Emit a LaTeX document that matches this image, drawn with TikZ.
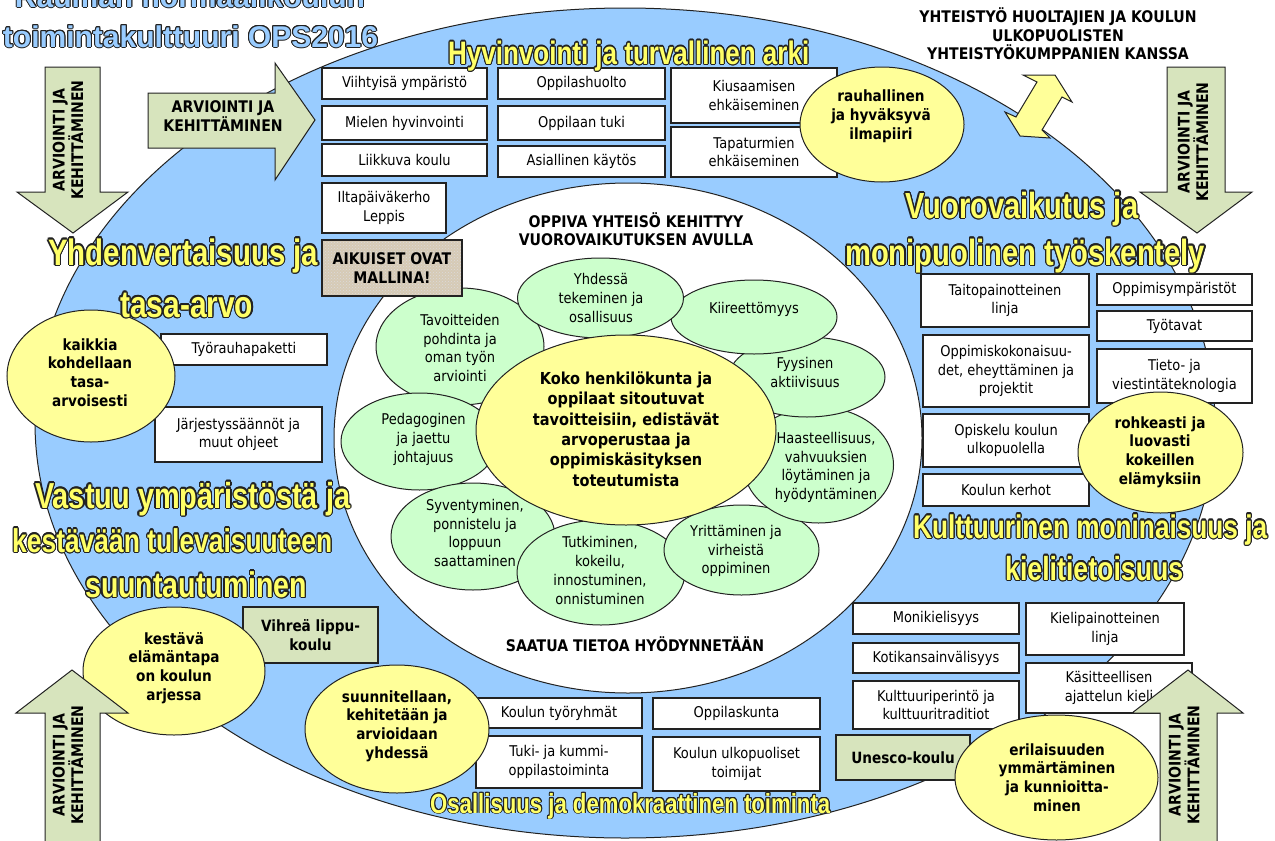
\documentclass[tikz,border=0pt]{standalone}
\usepackage{fontspec}
\setmainfont{DejaVu Sans}[FakeStretch=0.88]
\newfontfamily\hdfont{Liberation Sans}[FakeStretch=0.8]
\newfontfamily\ttlfont{Liberation Sans}
\usepackage{contour}
\contourlength{1pt}
\usetikzlibrary{shapes.geometric,patterns}
\definecolor{skyb}{HTML}{99CCFF}
\definecolor{pgreen}{HTML}{CCFFCC}
\definecolor{yel}{HTML}{FFFF99}
\definecolor{hdyel}{HTML}{FFFF66}
\definecolor{olv}{HTML}{D7E4BD}
\definecolor{tan}{HTML}{D6CAB5}
\definecolor{lc}{HTML}{222222}
\definecolor{ttlblue}{HTML}{99CCFF}
\newcommand\fnorm{\fontsize{14.8}{18.8}\selectfont}
\newcommand\fbold{\fontsize{15.5}{18.8}\selectfont\bfseries}
\newcommand\fcaps{\fontsize{16}{18.6}\selectfont\bfseries}
\newcommand\fcore{\fontsize{16.5}{20.3}\selectfont\bfseries}
\newcommand\hdtext[2]{\resizebox{#1pt}{!}{\textcolor{hdyel}{\contour{lc}{\hdfont\bfseries\fontsize{30}{30}\selectfont #2}}}}
\newcommand\ttltext[1]{\textcolor{ttlblue}{\contour{lc}{\ttlfont\bfseries\fontsize{30}{30}\selectfont #1}}}
\newcommand\bx[7][wbox]{\node[#1, minimum width={#5-#3}, minimum height={#6-#4}] (#2) at ({(#3+#5)/2},{(#4+#6)/2}) {#7};}
\newcommand\el[6]{\node[#6, minimum width={2*(#4)}, minimum height={2*(#5)}] (#1) at (#2,#3) {};}
\begin{document}
\begin{tikzpicture}[x=1pt,y=-1pt,
  wbox/.style={draw=lc, line width=1.2pt, fill=white, inner sep=0pt, align=center, font=\fnorm, text=black},
  gbox/.style={wbox, fill=olv, font=\fbold},
  tbox/.style={inner sep=0pt, align=center, font=\fcaps, text=black, preaction={fill=tan}, pattern=crosshatch dots, pattern color=black!14, postaction={draw=lc, line width=1.2pt}},
  petal/.style={ellipse, draw=lc, line width=1pt, fill=pgreen, inner sep=0pt},
  yell/.style={ellipse, draw=lc, line width=1pt, fill=yel, inner sep=0pt},
  ptext/.style={align=center, font=\fnorm, inner sep=0pt, text=black},
  ytext/.style={align=center, font=\fbold, inner sep=0pt, text=black},
  ctext/.style={align=center, font=\fcaps, inner sep=0pt, text=black},
  oarrow/.style={draw=lc, line width=1pt, fill=olv, line join=miter},
  yarrow/.style={draw=lc, line width=1pt, fill=yel, line join=miter},
  hd/.style={anchor=base west, inner sep=0pt}]
\useasboundingbox (0,0) rectangle (1275,841);
% big ellipses
\node[ellipse, draw=lc, line width=1pt, fill=skyb, inner sep=0pt, minimum width=1180, minimum height=830] (outer) at (625,423) {};
\node[ellipse, draw=lc, line width=1pt, fill=white, inner sep=0pt, minimum width=588, minimum height=510] (inner) at (628,438) {};
% petals
\el{p9}{460}{346.5}{84}{58.5}{petal}
\el{p8}{419.5}{441.5}{78.5}{48.5}{petal}
\el{p7}{473}{536.5}{82}{53.5}{petal}
\el{p6}{601}{572.5}{84}{52.5}{petal}
\el{p5}{741.5}{550}{77.5}{45}{petal}
\el{p4}{818.5}{465}{75}{58}{petal}
\el{p3}{807}{377}{78}{40}{petal}
\el{p2}{754}{317}{83}{37}{petal}
\el{p1}{600.5}{298}{83}{40}{petal}
\el{core}{626}{430}{150}{95}{yell}
\node[ptext] (p9t) at (460,348) {Tavoitteiden\\pohdinta ja\\oman työn\\arviointi};
\node[ptext] (p8t) at (423.5,439.5) {Pedagoginen\\ja jaettu\\johtajuus};
\node[ptext] (p7t) at (475,533) {Syventyminen,\\ponnistelu ja\\loppuun\\saattaminen};
\node[ptext] (p6t) at (600,570.5) {Tutkiminen,\\kokeilu,\\innostuminen,\\onnistuminen};
\node[ptext] (p5t) at (736,551) {Yrittäminen ja\\virheistä\\oppiminen};
\node[ptext] (p4t) at (826,467.5) {Haasteellisuus,\\vahvuuksien\\löytäminen ja\\hyödyntäminen};
\node[ptext] (p3t) at (805,372.5) {Fyysinen\\aktiivisuus};
\node[ptext] (p2t) at (754,309) {Kiireettömyys};
\node[ptext] (p1t) at (601,298) {Yhdessä\\tekeminen ja\\osallisuus};
\node[align=center, font=\fcore, inner sep=0pt] (coret) at (626,429) {Koko henkilökunta ja\\oppilaat sitoutuvat\\tavoitteisiin, edistävät\\arvoperustaa ja\\oppimiskäsityksen\\toteutumista};
\node[ctext] (oppiva) at (636,229) {OPPIVA YHTEISÖ KEHITTYY\\VUOROVAIKUTUKSEN AVULLA};
\node[ctext, anchor=base] (saatua) at (635,651) {SAATUA TIETOA HYÖDYNNETÄÄN};
% boxes
\bx{b1}{322}{68}{487}{99}{Viihtyisä ympäristö}
\bx{b2}{322}{106}{487}{140}{Mielen hyvinvointi}
\bx{b3}{322}{144}{487}{176}{Liikkuva koulu}
\bx{b4}{498}{68}{665}{99}{Oppilashuolto}
\bx{b5}{498}{106}{665}{140}{Oppilaan tuki}
\bx{b6}{498}{146}{665}{177}{Asiallinen käytös}
\bx{b7}{671}{68}{837}{123}{Kiusaamisen\\ehkäiseminen}
\bx{b8}{671}{127}{837}{177}{Tapaturmien\\ehkäiseminen}
\bx{b9}{322}{183}{446}{233}{Iltapäiväkerho\\Leppis}
\bx[tbox]{aik}{322}{240}{462}{296}{AIKUISET OVAT\\MALLINA!}
\bx{b10}{161}{334}{327}{365}{Työrauhapaketti}
\bx{b11}{155}{407}{322}{462}{Järjestyssäännöt ja\\muut ohjeet}
\bx{b12}{921}{274}{1089}{327}{Taitopainotteinen\\linja}
\bx{b13}{1097}{274}{1252}{305}{Oppimisympäristöt}
\bx{b14}{1097}{311}{1252}{341}{Työtavat}
\bx{b15}{923}{335}{1089}{407}{Oppimiskokonaisuu-\\det, eheyttäminen ja\\projektit}
\bx{b16}{1097}{349}{1252}{403}{Tieto- ja\\viestintäteknologia}
\bx{b17}{923}{414}{1089}{467}{Opiskelu koulun\\ulkopuolella}
\bx{b18}{923}{474}{1089}{506}{Koulun kerhot}
\bx{b19}{853}{603}{1019}{634}{Monikielisyys}
\bx{b20}{853}{643}{1019}{673}{Kotikansainvälisyys}
\bx{b21}{853}{681}{1019}{729}{Kulttuuriperintö ja\\kulttuuritraditiot}
\bx{b22}{1026}{603}{1184}{655}{Kielipainotteinen\\linja}
\bx{b23}{1026}{663}{1192}{713}{Käsitteellisen\\ajattelun kieli}
\bx{b24}{476}{698}{642}{728}{Koulun työryhmät}
\bx{b25}{476}{736}{642}{788}{Tuki- ja kummi-\\oppilastoiminta}
\bx{b26}{653}{698}{820}{729}{Oppilaskunta}
\bx{b27}{653}{737}{820}{791}{Koulun ulkopuoliset\\toimijat}
\bx[gbox]{g1}{243}{607}{378}{663}{Vihreä lippu-\\koulu}
\bx[gbox]{g2}{836}{735}{970}{780}{Unesco-koulu}
% yellow ellipses
\el{y1}{882}{124.5}{82}{57.5}{yell}
\el{y2}{91}{376}{84}{66}{yell}
\el{y3}{1160.5}{452.5}{82.5}{60.5}{yell}
\el{y4}{174}{671}{91}{64}{yell}
\el{y5}{397}{729}{92}{64}{yell}
\el{y6}{1056.5}{777.5}{101.5}{62.5}{yell}
\node[ytext] (y1t) at (881,116) {rauhallinen\\ja hyväksyvä\\ilmapiiri};
\node[ytext] (y2t) at (90,372.5) {kaikkia\\kohdellaan\\tasa-\\arvoisesti};
\node[ytext] (y3t) at (1160,452) {rohkeasti ja\\luovasti\\kokeillen\\elämyksiin};
\node[ytext] (y4t) at (174,668) {kestävä\\elämäntapa\\on koulun\\arjessa};
\node[ytext] (y5t) at (397,726) {suunnitellaan,\\kehitetään ja\\arvioidaan\\yhdessä};
\node[ytext] (y6t) at (1057,777.5) {erilaisuuden\\ymmärtäminen\\ja kunnioitta-\\minen};
% olive arrows
\draw[oarrow] (45,67) -- (100,67) -- (100,192) -- (128,192) -- (73,233) -- (17,192) -- (45,192) -- cycle;
\node[ctext, rotate=90] (a1t) at (68,140) {ARVIOINTI JA\\KEHITTÄMINEN};
\draw[oarrow] (148,93) -- (275,93) -- (275,63) -- (315,120) -- (275,180) -- (275,148) -- (148,148) -- cycle;
\node[ctext] (a2t) at (223,116) {ARVIOINTI JA\\KEHITTÄMINEN};
\draw[oarrow] (1167,67) -- (1225,67) -- (1225,192) -- (1252,192) -- (1197,233) -- (1140,192) -- (1167,192) -- cycle;
\node[ctext, rotate=90] (a3t) at (1193,142) {ARVIOINTI JA\\KEHITTÄMINEN};
\draw[oarrow] (45,850) -- (45,713) -- (16,713) -- (72,670) -- (128,713) -- (100,713) -- (100,850) -- cycle;
\node[ctext, rotate=90] (a4t) at (68,765) {ARVIOINTI JA\\KEHITTÄMINEN};
\draw[oarrow] (1160,850) -- (1160,713) -- (1132,713) -- (1188,670) -- (1243,713) -- (1217,713) -- (1217,850) -- cycle;
\node[ctext, rotate=90] (a5t) at (1184,765) {ARVIOINTI JA\\KEHITTÄMINEN};
% yellow double arrow
\draw[yarrow] (1023,75) -- (1055,75) -- (1072,102) -- (1062,97) -- (1042,130) -- (1050,138) -- (1020,136) -- (1005,112) -- (1016,117) -- (1037,82) -- cycle;
\node[ctext] (yht) at (1058,34) {YHTEISTYÖ HUOLTAJIEN JA KOULUN\\ULKOPUOLISTEN\\YHTEISTYÖKUMPPANIEN KANSSA};
% headings
\node[hd] (h1) at (448,64) {\hdtext{361}{Hyvinvointi ja turvallinen arki}};
\node[hd] (h2) at (48,265) {\hdtext{270}{Yhdenvertaisuus ja}};
\node[hd] (h3) at (120,317) {\hdtext{133}{tasa-arvo}};
\node[hd] (h4) at (35,508) {\hdtext{315}{Vastuu ympäristöstä ja}};
\node[hd] (h5) at (12,552) {\hdtext{320}{kestävään tulevaisuuteen}};
\node[hd] (h6) at (85,597) {\hdtext{222}{suuntautuminen}};
\node[hd] (h7) at (905,218) {\hdtext{233}{Vuorovaikutus ja}};
\node[hd] (h8) at (845,265) {\hdtext{360}{monipuolinen työskentely}};
\node[hd] (h9) at (913,538) {\hdtext{354}{Kulttuurinen moninaisuus ja}};
\node[hd] (h10) at (1005,580) {\hdtext{178}{kielitietoisuus}};
\node[hd] (h11) at (430,813) {\hdtext{400}{Osallisuus ja demokraattinen toiminta}};
% title
\node[anchor=base, inner sep=0pt] (ttl1) at (190,7) {\ttltext{Rauman normaalikoulun}};
\node[anchor=base, inner sep=0pt] (ttl2) at (190.5,47) {\ttltext{toimintakulttuuri OPS2016}};
\end{tikzpicture}
\end{document}
